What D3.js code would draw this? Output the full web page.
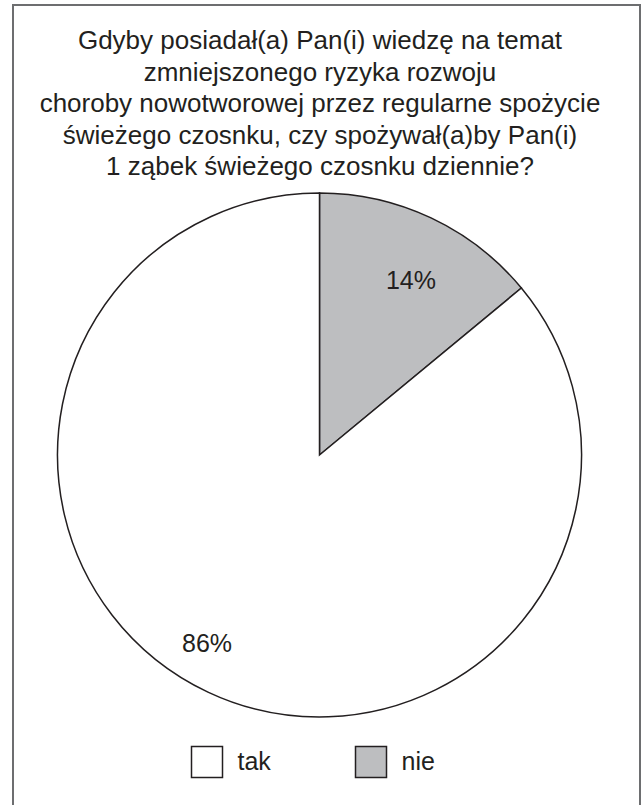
<!DOCTYPE html>
<html>
<head>
<meta charset="utf-8">
<script src="https://cdn.jsdelivr.net/npm/d3@7"></script>
<style>
  html, body { margin: 0; padding: 0; background: #fff; }
  svg { display: block; }
  text { font-family: "Liberation Sans", Arial, Helvetica, sans-serif; fill: #231f20; }
</style>
</head>
<body>
<svg id="chart" width="641" height="805"></svg>
<script>
// Survey answers (percent)
const categories = ["nie", "tak"];
const values = [14, 86];
const colors = ["#bdbec0", "#ffffff"];
const legendOrder = ["tak", "nie"];
const titleLines = [
  "Gdyby posiadał(a) Pan(i) wiedzę na temat",
  "zmniejszonego ryzyka rozwoju",
  "choroby nowotworowej przez regularne spożycie",
  "świeżego czosnku, czy spożywał(a)by Pan(i)",
  "1 ząbek świeżego czosnku dziennie?"
];

const svg = d3.select("#chart");
const ink = "#231f20";

// outer frame
svg.append("rect")
  .attr("x", 13).attr("y", 5)
  .attr("width", 627).attr("height", 820)
  .attr("fill", "none")
  .attr("stroke", "#6d6e70")
  .attr("stroke-width", 2);

// title
svg.append("g").selectAll("text")
  .data(titleLines)
  .join("text")
  .attr("x", 320)
  .attr("y", (d, i) => 49 + i * 31.6)
  .attr("text-anchor", "middle")
  .attr("font-size", 26)
  .text(d => d);

// pie
const cx = 319.5, cy = 455, R = 262;
const color = d3.scaleOrdinal().domain(categories).range(colors);
const pie = d3.pie().sort(null).value(d => d.value);
const data = categories.map((c, i) => ({ name: c, value: values[i] }));
const arcs = pie(data);
const arc = d3.arc().innerRadius(0).outerRadius(R);

const g = svg.append("g").attr("transform", `translate(${cx},${cy})`);
g.selectAll("path")
  .data(arcs)
  .join("path")
  .attr("d", arc)
  .attr("fill", d => color(d.data.name))
  .attr("stroke", ink)
  .attr("stroke-width", 1.5)
  .attr("stroke-linejoin", "miter");

// percentage labels, placed inside each slice
const labelPos = { nie: [91.5, -175], tak: [-112.5, 188] };
g.selectAll("text.pct")
  .data(arcs)
  .join("text")
  .attr("class", "pct")
  .attr("x", d => labelPos[d.data.name][0])
  .attr("y", d => labelPos[d.data.name][1] + 9)
  .attr("text-anchor", "middle")
  .attr("font-size", 25)
  .text(d => d.data.value + "%");

// legend
const legend = svg.append("g");
const lx = d3.scalePoint().domain(legendOrder).range([191.5, 355.5]);
const item = legend.selectAll("g")
  .data(legendOrder)
  .join("g")
  .attr("transform", d => `translate(${lx(d)},746.5)`);
item.append("rect")
  .attr("width", 31).attr("height", 31)
  .attr("fill", d => color(d))
  .attr("stroke", ink)
  .attr("stroke-width", 1.5);
item.append("text")
  .attr("x", 46)
  .attr("y", 23)
  .attr("font-size", 25)
  .text(d => d);
</script>
</body>
</html>
